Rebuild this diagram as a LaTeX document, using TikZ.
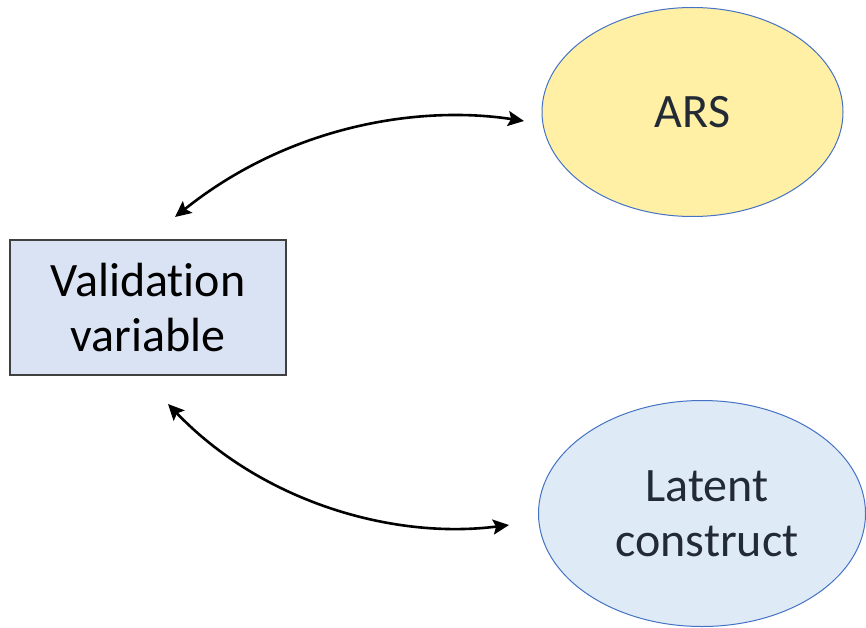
\documentclass[tikz,border=0pt]{standalone}
\usepackage{fontspec}
\setmainfont{Carlito}[Ligatures={NoCommon}]
\usetikzlibrary{shapes.geometric,arrows.meta}
\definecolor{boxfill}{HTML}{DAE3F3}
\definecolor{boxline}{HTML}{404040}
\definecolor{arsfill}{HTML}{FFF0A6}
\definecolor{latfill}{HTML}{DEEAF6}
\definecolor{elline}{HTML}{4472C4}
\definecolor{txt}{HTML}{222A35}
\tikzset{
  bigtext/.style={font=\fontsize{48}{55}\selectfont, align=center, inner sep=0pt},
  varbox/.style={bigtext, draw=boxline, fill=boxfill, line width=1.2pt, minimum width=276pt, minimum height=135pt},
  ell/.style={bigtext, ellipse, draw=elline, line width=1pt, text=txt},
  link/.style={line width=2.6pt, {Stealth[length=16pt,width=15pt,inset=3pt]}-{Stealth[length=16pt,width=15pt,inset=3pt]}}
}
\begin{document}
\begin{tikzpicture}[x=1pt,y=-1pt]
\useasboundingbox (0,0) rectangle (866,628);
\node[varbox] (vv) at (148,307.5) {Validation\\variable};
\node[ell, fill=arsfill, minimum width=301pt, minimum height=209pt] (ars) at (692.5,112) {ARS};
\node[ell, fill=latfill, minimum width=327pt, minimum height=226pt] (lat) at (702,513.5) {\hspace*{10pt}Latent\\\hspace*{10pt}construct};
\coordinate (a1) at (175,217);
\coordinate (a2) at (524,121);
\coordinate (b1) at (168,404);
\coordinate (b2) at (509,525);
\draw[link] (a1) .. controls (290,125) and (420,105) .. (a2);
\draw[link] (b1) .. controls (260,500) and (390,540) .. (b2);
\end{tikzpicture}
\end{document}
